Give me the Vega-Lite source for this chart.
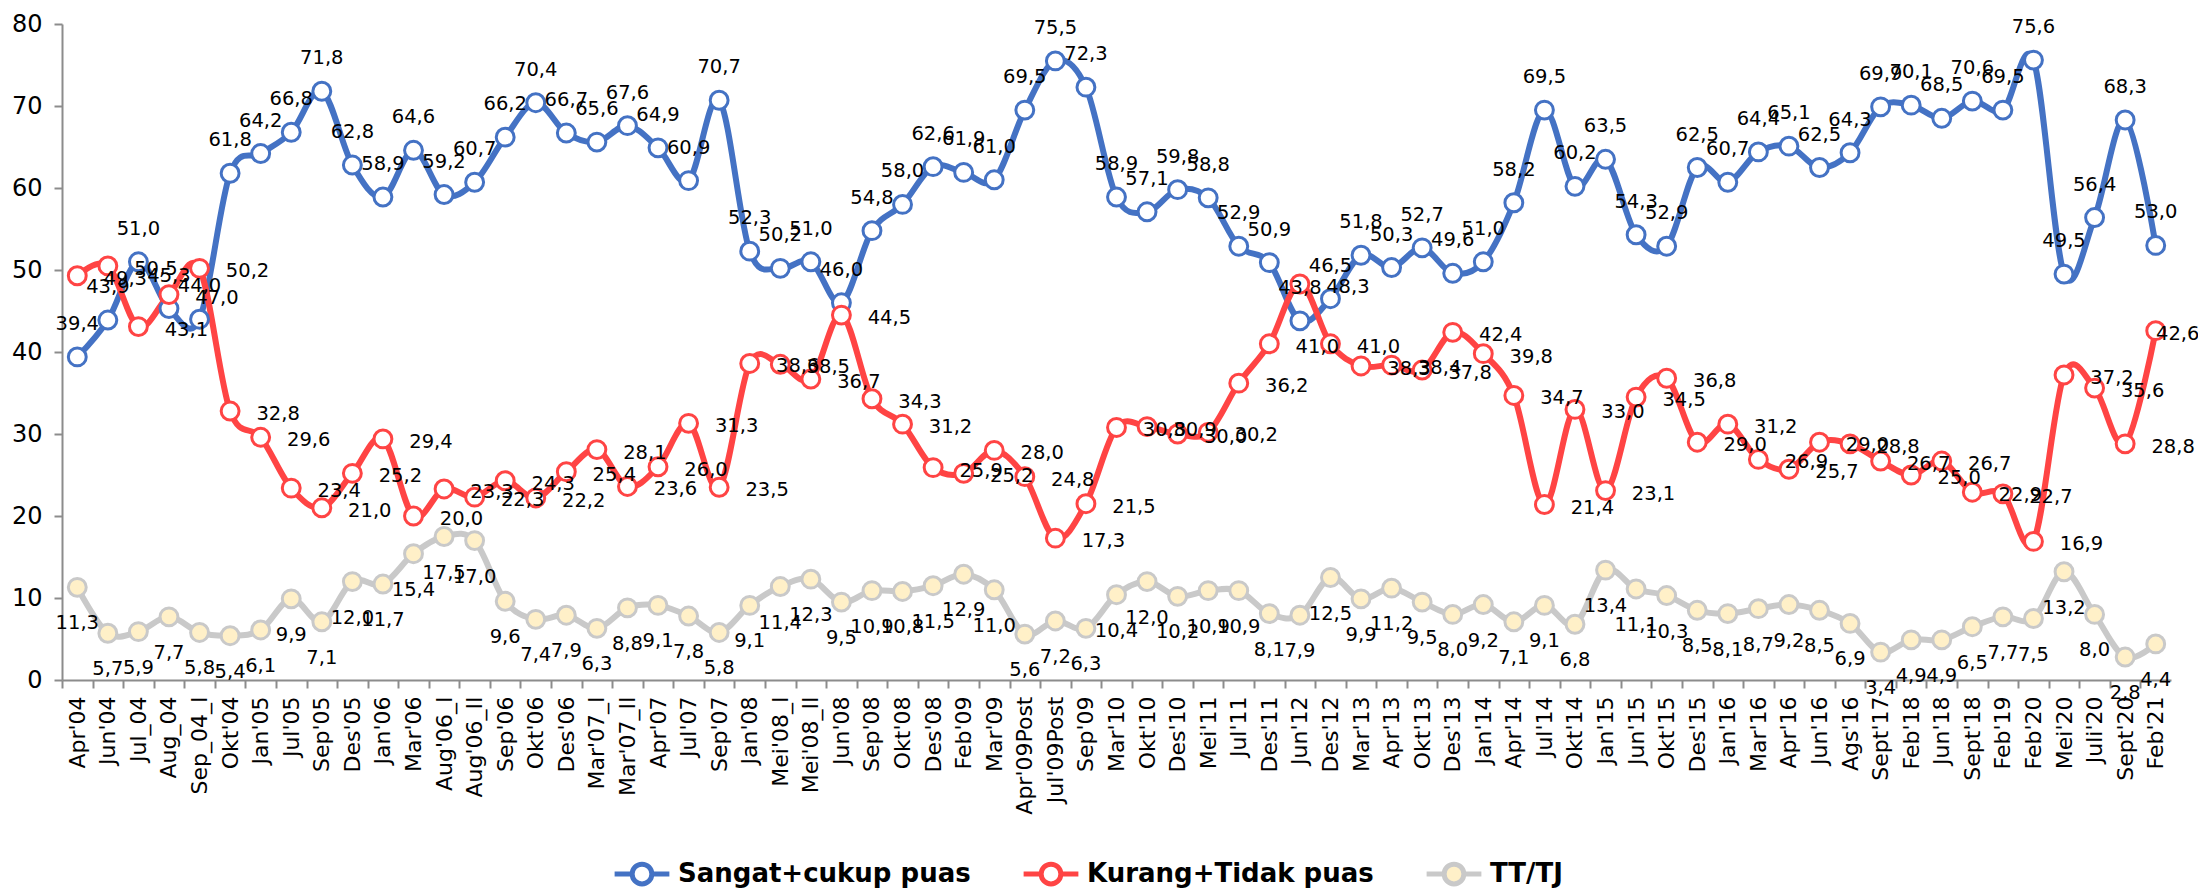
{
  "$schema": "https://vega.github.io/schema/vega-lite/v6.json",
  "width": 2109,
  "height": 656,
  "autosize": {"type": "none"},
  "padding": {"left": 62, "top": 24, "right": 27, "bottom": 215},
  "background": "white",
  "config": {
    "view": {"stroke": null},
    "font": "DejaVu Sans",
    "locale": {"number": {"decimal": ",", "thousands": ".", "grouping": [3], "currency": ["", ""]}},
    "axis": {"grid": false, "domainColor": "#8c8c8c", "domainWidth": 2, "tickColor": "#8c8c8c", "tickWidth": 2, "tickSize": 8, "labelColor": "#000000", "labelFont": "DejaVu Sans", "title": null},
    "legend": {"labelFont": "DejaVu Sans", "labelColor": "#000000"}
  },
  "data": {"values": [
    {"periode":"Apr'04","seri":"Sangat+cukup puas","nilai":39.4},
    {"periode":"Jun'04","seri":"Sangat+cukup puas","nilai":43.9},
    {"periode":"Jul_04","seri":"Sangat+cukup puas","nilai":51.0},
    {"periode":"Aug_04","seri":"Sangat+cukup puas","nilai":45.3},
    {"periode":"Sep_04_I","seri":"Sangat+cukup puas","nilai":44.0},
    {"periode":"Okt'04","seri":"Sangat+cukup puas","nilai":61.8},
    {"periode":"Jan'05","seri":"Sangat+cukup puas","nilai":64.2},
    {"periode":"Jul'05","seri":"Sangat+cukup puas","nilai":66.8},
    {"periode":"Sep'05","seri":"Sangat+cukup puas","nilai":71.8},
    {"periode":"Des'05","seri":"Sangat+cukup puas","nilai":62.8},
    {"periode":"Jan'06","seri":"Sangat+cukup puas","nilai":58.9},
    {"periode":"Mar'06","seri":"Sangat+cukup puas","nilai":64.6},
    {"periode":"Aug'06_I","seri":"Sangat+cukup puas","nilai":59.2},
    {"periode":"Aug'06_II","seri":"Sangat+cukup puas","nilai":60.7},
    {"periode":"Sep'06","seri":"Sangat+cukup puas","nilai":66.2},
    {"periode":"Okt'06","seri":"Sangat+cukup puas","nilai":70.4},
    {"periode":"Des'06","seri":"Sangat+cukup puas","nilai":66.7},
    {"periode":"Mar'07_I","seri":"Sangat+cukup puas","nilai":65.6},
    {"periode":"Mar'07_II","seri":"Sangat+cukup puas","nilai":67.6},
    {"periode":"Apr'07","seri":"Sangat+cukup puas","nilai":64.9},
    {"periode":"Jul'07","seri":"Sangat+cukup puas","nilai":60.9},
    {"periode":"Sep'07","seri":"Sangat+cukup puas","nilai":70.7},
    {"periode":"Jan'08","seri":"Sangat+cukup puas","nilai":52.3},
    {"periode":"Mei'08_I","seri":"Sangat+cukup puas","nilai":50.2},
    {"periode":"Mei'08_II","seri":"Sangat+cukup puas","nilai":51.0},
    {"periode":"Jun'08","seri":"Sangat+cukup puas","nilai":46.0},
    {"periode":"Sep'08","seri":"Sangat+cukup puas","nilai":54.8},
    {"periode":"Okt'08","seri":"Sangat+cukup puas","nilai":58.0},
    {"periode":"Des'08","seri":"Sangat+cukup puas","nilai":62.6},
    {"periode":"Feb'09","seri":"Sangat+cukup puas","nilai":61.9},
    {"periode":"Mar'09","seri":"Sangat+cukup puas","nilai":61.0},
    {"periode":"Apr'09Post","seri":"Sangat+cukup puas","nilai":69.5},
    {"periode":"Jul'09Post","seri":"Sangat+cukup puas","nilai":75.5},
    {"periode":"Sep'09","seri":"Sangat+cukup puas","nilai":72.3},
    {"periode":"Mar'10","seri":"Sangat+cukup puas","nilai":58.9},
    {"periode":"Okt'10","seri":"Sangat+cukup puas","nilai":57.1},
    {"periode":"Des'10","seri":"Sangat+cukup puas","nilai":59.8},
    {"periode":"Mei'11","seri":"Sangat+cukup puas","nilai":58.8},
    {"periode":"Jul'11","seri":"Sangat+cukup puas","nilai":52.9},
    {"periode":"Des'11","seri":"Sangat+cukup puas","nilai":50.9},
    {"periode":"Jun'12","seri":"Sangat+cukup puas","nilai":43.8},
    {"periode":"Des'12","seri":"Sangat+cukup puas","nilai":46.5},
    {"periode":"Mar'13","seri":"Sangat+cukup puas","nilai":51.8},
    {"periode":"Apr'13","seri":"Sangat+cukup puas","nilai":50.3},
    {"periode":"Okt'13","seri":"Sangat+cukup puas","nilai":52.7},
    {"periode":"Des'13","seri":"Sangat+cukup puas","nilai":49.6},
    {"periode":"Jan'14","seri":"Sangat+cukup puas","nilai":51.0},
    {"periode":"Apr'14","seri":"Sangat+cukup puas","nilai":58.2},
    {"periode":"Jul'14","seri":"Sangat+cukup puas","nilai":69.5},
    {"periode":"Okt'14","seri":"Sangat+cukup puas","nilai":60.2},
    {"periode":"Jan'15","seri":"Sangat+cukup puas","nilai":63.5},
    {"periode":"Jun'15","seri":"Sangat+cukup puas","nilai":54.3},
    {"periode":"Okt'15","seri":"Sangat+cukup puas","nilai":52.9},
    {"periode":"Des'15","seri":"Sangat+cukup puas","nilai":62.5},
    {"periode":"Jan'16","seri":"Sangat+cukup puas","nilai":60.7},
    {"periode":"Mar'16","seri":"Sangat+cukup puas","nilai":64.4},
    {"periode":"Apr'16","seri":"Sangat+cukup puas","nilai":65.1},
    {"periode":"Jun'16","seri":"Sangat+cukup puas","nilai":62.5},
    {"periode":"Ags'16","seri":"Sangat+cukup puas","nilai":64.3},
    {"periode":"Sept'17","seri":"Sangat+cukup puas","nilai":69.9},
    {"periode":"Feb'18","seri":"Sangat+cukup puas","nilai":70.1},
    {"periode":"Jun'18","seri":"Sangat+cukup puas","nilai":68.5},
    {"periode":"Sept'18","seri":"Sangat+cukup puas","nilai":70.6},
    {"periode":"Feb'19","seri":"Sangat+cukup puas","nilai":69.5},
    {"periode":"Feb'20","seri":"Sangat+cukup puas","nilai":75.6},
    {"periode":"Mei'20","seri":"Sangat+cukup puas","nilai":49.5},
    {"periode":"Juli'20","seri":"Sangat+cukup puas","nilai":56.4},
    {"periode":"Sept'20","seri":"Sangat+cukup puas","nilai":68.3},
    {"periode":"Feb'21","seri":"Sangat+cukup puas","nilai":53.0},
    {"periode":"Apr'04","seri":"Kurang+Tidak puas","nilai":49.3},
    {"periode":"Jun'04","seri":"Kurang+Tidak puas","nilai":50.5},
    {"periode":"Jul_04","seri":"Kurang+Tidak puas","nilai":43.1},
    {"periode":"Aug_04","seri":"Kurang+Tidak puas","nilai":47.0},
    {"periode":"Sep_04_I","seri":"Kurang+Tidak puas","nilai":50.2},
    {"periode":"Okt'04","seri":"Kurang+Tidak puas","nilai":32.8},
    {"periode":"Jan'05","seri":"Kurang+Tidak puas","nilai":29.6},
    {"periode":"Jul'05","seri":"Kurang+Tidak puas","nilai":23.4},
    {"periode":"Sep'05","seri":"Kurang+Tidak puas","nilai":21.0},
    {"periode":"Des'05","seri":"Kurang+Tidak puas","nilai":25.2},
    {"periode":"Jan'06","seri":"Kurang+Tidak puas","nilai":29.4},
    {"periode":"Mar'06","seri":"Kurang+Tidak puas","nilai":20.0},
    {"periode":"Aug'06_I","seri":"Kurang+Tidak puas","nilai":23.3},
    {"periode":"Aug'06_II","seri":"Kurang+Tidak puas","nilai":22.3},
    {"periode":"Sep'06","seri":"Kurang+Tidak puas","nilai":24.3},
    {"periode":"Okt'06","seri":"Kurang+Tidak puas","nilai":22.2},
    {"periode":"Des'06","seri":"Kurang+Tidak puas","nilai":25.4},
    {"periode":"Mar'07_I","seri":"Kurang+Tidak puas","nilai":28.1},
    {"periode":"Mar'07_II","seri":"Kurang+Tidak puas","nilai":23.6},
    {"periode":"Apr'07","seri":"Kurang+Tidak puas","nilai":26.0},
    {"periode":"Jul'07","seri":"Kurang+Tidak puas","nilai":31.3},
    {"periode":"Sep'07","seri":"Kurang+Tidak puas","nilai":23.5},
    {"periode":"Jan'08","seri":"Kurang+Tidak puas","nilai":38.6},
    {"periode":"Mei'08_I","seri":"Kurang+Tidak puas","nilai":38.5},
    {"periode":"Mei'08_II","seri":"Kurang+Tidak puas","nilai":36.7},
    {"periode":"Jun'08","seri":"Kurang+Tidak puas","nilai":44.5},
    {"periode":"Sep'08","seri":"Kurang+Tidak puas","nilai":34.3},
    {"periode":"Okt'08","seri":"Kurang+Tidak puas","nilai":31.2},
    {"periode":"Des'08","seri":"Kurang+Tidak puas","nilai":25.9},
    {"periode":"Feb'09","seri":"Kurang+Tidak puas","nilai":25.2},
    {"periode":"Mar'09","seri":"Kurang+Tidak puas","nilai":28.0},
    {"periode":"Apr'09Post","seri":"Kurang+Tidak puas","nilai":24.8},
    {"periode":"Jul'09Post","seri":"Kurang+Tidak puas","nilai":17.3},
    {"periode":"Sep'09","seri":"Kurang+Tidak puas","nilai":21.5},
    {"periode":"Mar'10","seri":"Kurang+Tidak puas","nilai":30.8},
    {"periode":"Okt'10","seri":"Kurang+Tidak puas","nilai":30.9},
    {"periode":"Des'10","seri":"Kurang+Tidak puas","nilai":30.0},
    {"periode":"Mei'11","seri":"Kurang+Tidak puas","nilai":30.2},
    {"periode":"Jul'11","seri":"Kurang+Tidak puas","nilai":36.2},
    {"periode":"Des'11","seri":"Kurang+Tidak puas","nilai":41.0},
    {"periode":"Jun'12","seri":"Kurang+Tidak puas","nilai":48.3},
    {"periode":"Des'12","seri":"Kurang+Tidak puas","nilai":41.0},
    {"periode":"Mar'13","seri":"Kurang+Tidak puas","nilai":38.3},
    {"periode":"Apr'13","seri":"Kurang+Tidak puas","nilai":38.4},
    {"periode":"Okt'13","seri":"Kurang+Tidak puas","nilai":37.8},
    {"periode":"Des'13","seri":"Kurang+Tidak puas","nilai":42.4},
    {"periode":"Jan'14","seri":"Kurang+Tidak puas","nilai":39.8},
    {"periode":"Apr'14","seri":"Kurang+Tidak puas","nilai":34.7},
    {"periode":"Jul'14","seri":"Kurang+Tidak puas","nilai":21.4},
    {"periode":"Okt'14","seri":"Kurang+Tidak puas","nilai":33.0},
    {"periode":"Jan'15","seri":"Kurang+Tidak puas","nilai":23.1},
    {"periode":"Jun'15","seri":"Kurang+Tidak puas","nilai":34.5},
    {"periode":"Okt'15","seri":"Kurang+Tidak puas","nilai":36.8},
    {"periode":"Des'15","seri":"Kurang+Tidak puas","nilai":29.0},
    {"periode":"Jan'16","seri":"Kurang+Tidak puas","nilai":31.2},
    {"periode":"Mar'16","seri":"Kurang+Tidak puas","nilai":26.9},
    {"periode":"Apr'16","seri":"Kurang+Tidak puas","nilai":25.7},
    {"periode":"Jun'16","seri":"Kurang+Tidak puas","nilai":29.0},
    {"periode":"Ags'16","seri":"Kurang+Tidak puas","nilai":28.8},
    {"periode":"Sept'17","seri":"Kurang+Tidak puas","nilai":26.7},
    {"periode":"Feb'18","seri":"Kurang+Tidak puas","nilai":25.0},
    {"periode":"Jun'18","seri":"Kurang+Tidak puas","nilai":26.7},
    {"periode":"Sept'18","seri":"Kurang+Tidak puas","nilai":22.9},
    {"periode":"Feb'19","seri":"Kurang+Tidak puas","nilai":22.7},
    {"periode":"Feb'20","seri":"Kurang+Tidak puas","nilai":16.9},
    {"periode":"Mei'20","seri":"Kurang+Tidak puas","nilai":37.2},
    {"periode":"Juli'20","seri":"Kurang+Tidak puas","nilai":35.6},
    {"periode":"Sept'20","seri":"Kurang+Tidak puas","nilai":28.8},
    {"periode":"Feb'21","seri":"Kurang+Tidak puas","nilai":42.6},
    {"periode":"Apr'04","seri":"TT/TJ","nilai":11.3},
    {"periode":"Jun'04","seri":"TT/TJ","nilai":5.7},
    {"periode":"Jul_04","seri":"TT/TJ","nilai":5.9},
    {"periode":"Aug_04","seri":"TT/TJ","nilai":7.7},
    {"periode":"Sep_04_I","seri":"TT/TJ","nilai":5.8},
    {"periode":"Okt'04","seri":"TT/TJ","nilai":5.4},
    {"periode":"Jan'05","seri":"TT/TJ","nilai":6.1},
    {"periode":"Jul'05","seri":"TT/TJ","nilai":9.9},
    {"periode":"Sep'05","seri":"TT/TJ","nilai":7.1},
    {"periode":"Des'05","seri":"TT/TJ","nilai":12.0},
    {"periode":"Jan'06","seri":"TT/TJ","nilai":11.7},
    {"periode":"Mar'06","seri":"TT/TJ","nilai":15.4},
    {"periode":"Aug'06_I","seri":"TT/TJ","nilai":17.5},
    {"periode":"Aug'06_II","seri":"TT/TJ","nilai":17.0},
    {"periode":"Sep'06","seri":"TT/TJ","nilai":9.6},
    {"periode":"Okt'06","seri":"TT/TJ","nilai":7.4},
    {"periode":"Des'06","seri":"TT/TJ","nilai":7.9},
    {"periode":"Mar'07_I","seri":"TT/TJ","nilai":6.3},
    {"periode":"Mar'07_II","seri":"TT/TJ","nilai":8.8},
    {"periode":"Apr'07","seri":"TT/TJ","nilai":9.1},
    {"periode":"Jul'07","seri":"TT/TJ","nilai":7.8},
    {"periode":"Sep'07","seri":"TT/TJ","nilai":5.8},
    {"periode":"Jan'08","seri":"TT/TJ","nilai":9.1},
    {"periode":"Mei'08_I","seri":"TT/TJ","nilai":11.4},
    {"periode":"Mei'08_II","seri":"TT/TJ","nilai":12.3},
    {"periode":"Jun'08","seri":"TT/TJ","nilai":9.5},
    {"periode":"Sep'08","seri":"TT/TJ","nilai":10.9},
    {"periode":"Okt'08","seri":"TT/TJ","nilai":10.8},
    {"periode":"Des'08","seri":"TT/TJ","nilai":11.5},
    {"periode":"Feb'09","seri":"TT/TJ","nilai":12.9},
    {"periode":"Mar'09","seri":"TT/TJ","nilai":11.0},
    {"periode":"Apr'09Post","seri":"TT/TJ","nilai":5.6},
    {"periode":"Jul'09Post","seri":"TT/TJ","nilai":7.2},
    {"periode":"Sep'09","seri":"TT/TJ","nilai":6.3},
    {"periode":"Mar'10","seri":"TT/TJ","nilai":10.4},
    {"periode":"Okt'10","seri":"TT/TJ","nilai":12.0},
    {"periode":"Des'10","seri":"TT/TJ","nilai":10.2},
    {"periode":"Mei'11","seri":"TT/TJ","nilai":10.9},
    {"periode":"Jul'11","seri":"TT/TJ","nilai":10.9},
    {"periode":"Des'11","seri":"TT/TJ","nilai":8.1},
    {"periode":"Jun'12","seri":"TT/TJ","nilai":7.9},
    {"periode":"Des'12","seri":"TT/TJ","nilai":12.5},
    {"periode":"Mar'13","seri":"TT/TJ","nilai":9.9},
    {"periode":"Apr'13","seri":"TT/TJ","nilai":11.2},
    {"periode":"Okt'13","seri":"TT/TJ","nilai":9.5},
    {"periode":"Des'13","seri":"TT/TJ","nilai":8.0},
    {"periode":"Jan'14","seri":"TT/TJ","nilai":9.2},
    {"periode":"Apr'14","seri":"TT/TJ","nilai":7.1},
    {"periode":"Jul'14","seri":"TT/TJ","nilai":9.1},
    {"periode":"Okt'14","seri":"TT/TJ","nilai":6.8},
    {"periode":"Jan'15","seri":"TT/TJ","nilai":13.4},
    {"periode":"Jun'15","seri":"TT/TJ","nilai":11.1},
    {"periode":"Okt'15","seri":"TT/TJ","nilai":10.3},
    {"periode":"Des'15","seri":"TT/TJ","nilai":8.5},
    {"periode":"Jan'16","seri":"TT/TJ","nilai":8.1},
    {"periode":"Mar'16","seri":"TT/TJ","nilai":8.7},
    {"periode":"Apr'16","seri":"TT/TJ","nilai":9.2},
    {"periode":"Jun'16","seri":"TT/TJ","nilai":8.5},
    {"periode":"Ags'16","seri":"TT/TJ","nilai":6.9},
    {"periode":"Sept'17","seri":"TT/TJ","nilai":3.4},
    {"periode":"Feb'18","seri":"TT/TJ","nilai":4.9},
    {"periode":"Jun'18","seri":"TT/TJ","nilai":4.9},
    {"periode":"Sept'18","seri":"TT/TJ","nilai":6.5},
    {"periode":"Feb'19","seri":"TT/TJ","nilai":7.7},
    {"periode":"Feb'20","seri":"TT/TJ","nilai":7.5},
    {"periode":"Mei'20","seri":"TT/TJ","nilai":13.2},
    {"periode":"Juli'20","seri":"TT/TJ","nilai":8.0},
    {"periode":"Sept'20","seri":"TT/TJ","nilai":2.8},
    {"periode":"Feb'21","seri":"TT/TJ","nilai":4.4}
  ]},
  "encoding": {
    "x": {
      "field": "periode", "type": "nominal",
      "scale": {"domain": ["Apr'04","Jun'04","Jul_04","Aug_04","Sep_04_I","Okt'04","Jan'05","Jul'05","Sep'05","Des'05","Jan'06","Mar'06","Aug'06_I","Aug'06_II","Sep'06","Okt'06","Des'06","Mar'07_I","Mar'07_II","Apr'07","Jul'07","Sep'07","Jan'08","Mei'08_I","Mei'08_II","Jun'08","Sep'08","Okt'08","Des'08","Feb'09","Mar'09","Apr'09Post","Jul'09Post","Sep'09","Mar'10","Okt'10","Des'10","Mei'11","Jul'11","Des'11","Jun'12","Des'12","Mar'13","Apr'13","Okt'13","Des'13","Jan'14","Apr'14","Jul'14","Okt'14","Jan'15","Jun'15","Okt'15","Des'15","Jan'16","Mar'16","Apr'16","Jun'16","Ags'16","Sept'17","Feb'18","Jun'18","Sept'18","Feb'19","Feb'20","Mei'20","Juli'20","Sept'20","Feb'21"], "paddingInner": 0, "paddingOuter": 0},
      "axis": {"labelAngle": -90, "labelFontSize": 22, "labelPadding": 8, "labelOverlap": false, "labelLimit": 300, "labelBound": false, "tickOffset": -15.28, "labelOffset": 15.28}
    },
    "y": {
      "field": "nilai", "type": "quantitative",
      "scale": {"domain": [0, 80], "nice": false},
      "axis": {"values": [0, 10, 20, 30, 40, 50, 60, 70, 80], "labelFontSize": 24, "labelPadding": 12}
    }
  },
  "layer": [
    {
      "mark": {"type": "line", "strokeWidth": 6, "interpolate": "cardinal", "strokeCap": "round", "strokeJoin": "round"},
      "encoding": {
        "stroke": {"field": "seri", "type": "nominal",
          "scale": {"domain": ["Sangat+cukup puas", "Kurang+Tidak puas", "TT/TJ"], "range": ["#4472C4", "#FF4444", "#C9C9C9"]},
          "legend": {"orient": "none", "direction": "horizontal", "legendX": 550, "legendY": 820, "title": null, "labelFontSize": 26, "labelFontWeight": "bold", "labelLimit": 0, "symbolType": "M-1,0L-0.36,0M0.36,0L1,0M-0.36,0A0.36,0.36,0,1,1,0.36,0A0.36,0.36,0,1,1,-0.36,0Z", "symbolSize": 3000, "symbolStrokeWidth": 5, "columnPadding": 42, "labelOffset": 6}}
      }
    },
    {
      "mark": {"type": "point", "shape": "circle", "filled": true, "size": 320, "strokeWidth": 3, "opacity": 1},
      "encoding": {
        "stroke": {"field": "seri", "type": "nominal"},
        "fill": {"field": "seri", "type": "nominal",
          "scale": {"domain": ["Sangat+cukup puas", "Kurang+Tidak puas", "TT/TJ"], "range": ["#FFFFFF", "#FFFFFF", "#FFF0C8"]},
          "legend": {"orient": "none", "direction": "horizontal", "legendX": 550, "legendY": 820, "title": null}}
      }
    },
    {
      "transform": [{"filter": "datum.seri === 'Sangat+cukup puas'"}],
      "mark": {"type": "text", "dy": -33, "fontSize": 19.5, "color": "#000000"},
      "encoding": {"text": {"field": "nilai", "type": "quantitative", "format": ".1f"}}
    },
    {
      "transform": [{"filter": "datum.seri === 'Kurang+Tidak puas' && datum.periode !== \"Feb'21\""}],
      "mark": {"type": "text", "dx": 48, "dy": 3, "fontSize": 19.5, "color": "#000000"},
      "encoding": {"text": {"field": "nilai", "type": "quantitative", "format": ".1f"}}
    },
    {
      "transform": [{"filter": "datum.seri === 'Kurang+Tidak puas' && datum.periode === \"Feb'21\""}],
      "mark": {"type": "text", "dx": 22, "dy": 3, "fontSize": 19.5, "color": "#000000"},
      "encoding": {"text": {"field": "nilai", "type": "quantitative", "format": ".1f"}}
    },
    {
      "transform": [{"filter": "datum.seri === 'TT/TJ'"}],
      "mark": {"type": "text", "dy": 36, "fontSize": 19.5, "color": "#000000"},
      "encoding": {"text": {"field": "nilai", "type": "quantitative", "format": ".1f"}}
    }
  ]
}
